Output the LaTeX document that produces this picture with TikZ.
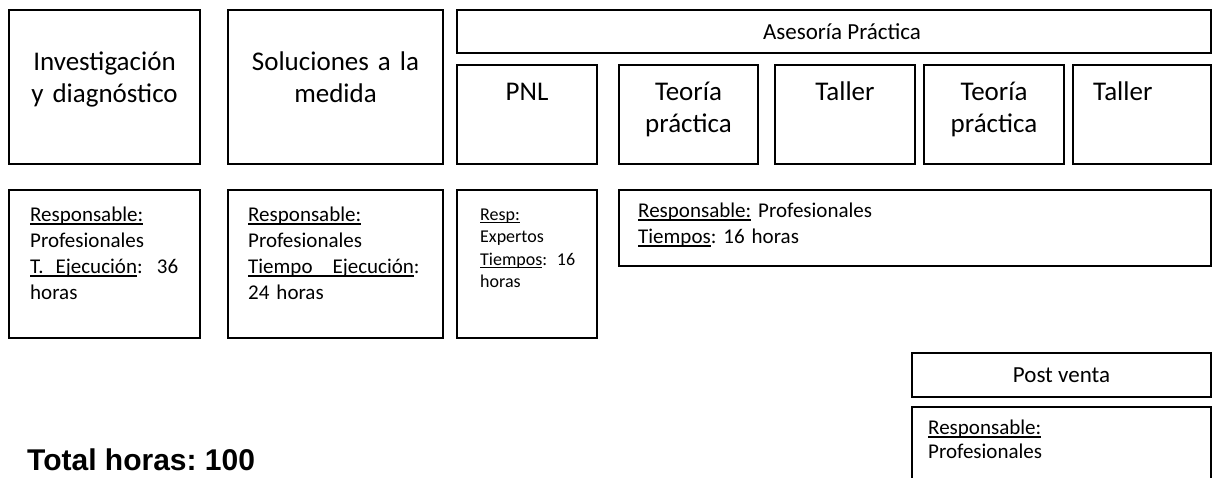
\documentclass[tikz,border=0pt]{standalone}
\usepackage{fontspec}
\setmainfont{Carlito}
\newfontfamily\totalfont{Liberation Sans}
\frenchspacing
\usetikzlibrary{positioning}
\newcommand{\undr}[1]{\leavevmode\setbox0\hbox{#1}\rlap{\rule[-0.16em]{\wd0}{0.075em}}\box0\relax}
\tikzset{
    box/.style = {draw, line width=1.6pt, outer sep=0pt, inner sep=0pt, anchor=north west},
    titletext/.style = {font=\fontsize{27}{32}\selectfont, inner sep=0pt, execute at begin node={\centering\strut}},
    lefttitle/.style = {font=\fontsize{27}{32}\selectfont, inner sep=0pt, anchor=north west, execute at begin node={\raggedright\strut}},
    infotext/.style = {font=\fontsize{21}{26}\selectfont, inner sep=0pt, anchor=north west, execute at begin node={\raggedright\strut}},
    headtext/.style = {font=\fontsize{23}{27}\selectfont}
}

\begin{document}
\begin{tikzpicture}[x=1pt,y=-1pt]
    \useasboundingbox (0,0) rectangle (1213,477);

    \node[box, minimum width=191pt, minimum height=154pt] (inv) at (9,10) {};
    \node[box, minimum width=215pt, minimum height=154pt] (sol) at (228,10) {};
    \node[box, minimum width=754pt, minimum height=43pt] (ase) at (457,10) {};
    \node[headtext, inner sep=0pt, xshift=8pt] (asetext) at (ase.center) {Asesoría Práctica};
    \node[box, minimum width=140pt, minimum height=99pt] (pnl) at (457,65) {};
    \node[box, minimum width=139pt, minimum height=99pt] (teoA) at (619,65) {};
    \node[box, minimum width=140pt, minimum height=99pt] (talA) at (775,65) {};
    \node[box, minimum width=140pt, minimum height=99pt] (teoB) at (924,65) {};
    \node[box, minimum width=138pt, minimum height=99pt] (talB) at (1073,65) {};

    \node[titletext, text width=180pt, below=37.6pt of inv.north] (invtext) {Investigación\\ y diagnóstico};
    \node[titletext, text width=200pt, below=37.6pt of sol.north] (soltext) {Soluciones a la\\ medida};
    \node[titletext, text width=130pt, below=12.6pt of pnl.north] (pnltext) {PNL};
    \node[titletext, text width=130pt, below=12.6pt of teoA.north] (teoAtext) {Teoría\\ práctica};
    \node[titletext, text width=130pt, below=12.6pt of talA.north] (talAtext) {Taller};
    \node[titletext, text width=130pt, below=12.6pt of teoB.north] (teoBtext) {Teoría\\ práctica};
    \node[lefttitle, text width=110pt, below right=12.6pt and 20pt of talB.north west] (talBtext) {Taller};

    \node[box, minimum width=191pt, minimum height=148pt] (resA) at (9,190) {};
    \node[box, minimum width=215pt, minimum height=148pt] (resB) at (228,190) {};
    \node[box, minimum width=140pt, minimum height=148pt] (resC) at (457,190) {};
    \node[box, minimum width=592pt, minimum height=76pt] (resD) at (619,190) {};

    \node[infotext, text width=148pt, below right=12.8pt and 21pt of resA.north west] (resAtext)
        {\undr{Responsable:}\\ Profesionales\\ \undr{T.\hspace{12pt}Ejecución}:\hfill 36\\ horas};
    \node[infotext, text width=175pt, below right=12.8pt and 20pt of resB.north west] (resBtext)
        {\undr{Responsable:}\\ Profesionales\\ \undr{Tiempo\hspace{20pt}Ejecución}:\\ 24 horas};
    \node[infotext, font=\fontsize{18}{22.5}\selectfont, text width=95pt, below right=14.25pt and 23pt of resC.north west] (resCtext)
        {\undr{Resp:}\\ Expertos\\ \undr{Tiempos}:\hfill 16\\ horas};
    \node[infotext, text width=400pt, below right=8.8pt and 19pt of resD.north west] (resDtext)
        {\undr{Responsable:} Profesionales\\ \undr{Tiempos}: 16 horas};

    \node[box, headtext, minimum width=299pt, minimum height=44pt] (post) at (912,353) {Post venta};
    \node[box, minimum width=299pt, minimum height=100pt] (postres) at (912,407) {};
    \node[infotext, font=\fontsize{21}{24}\selectfont, text width=250pt, below right=10.2pt and 16pt of postres.north west] (postrestext)
        {\undr{Responsable:}\\ Profesionales};

    \node[font=\totalfont\bfseries\fontsize{30}{36}\selectfont, inner sep=0pt, anchor=base west] (total) at (27,470) {Total horas: 100};
\end{tikzpicture}
\end{document}
